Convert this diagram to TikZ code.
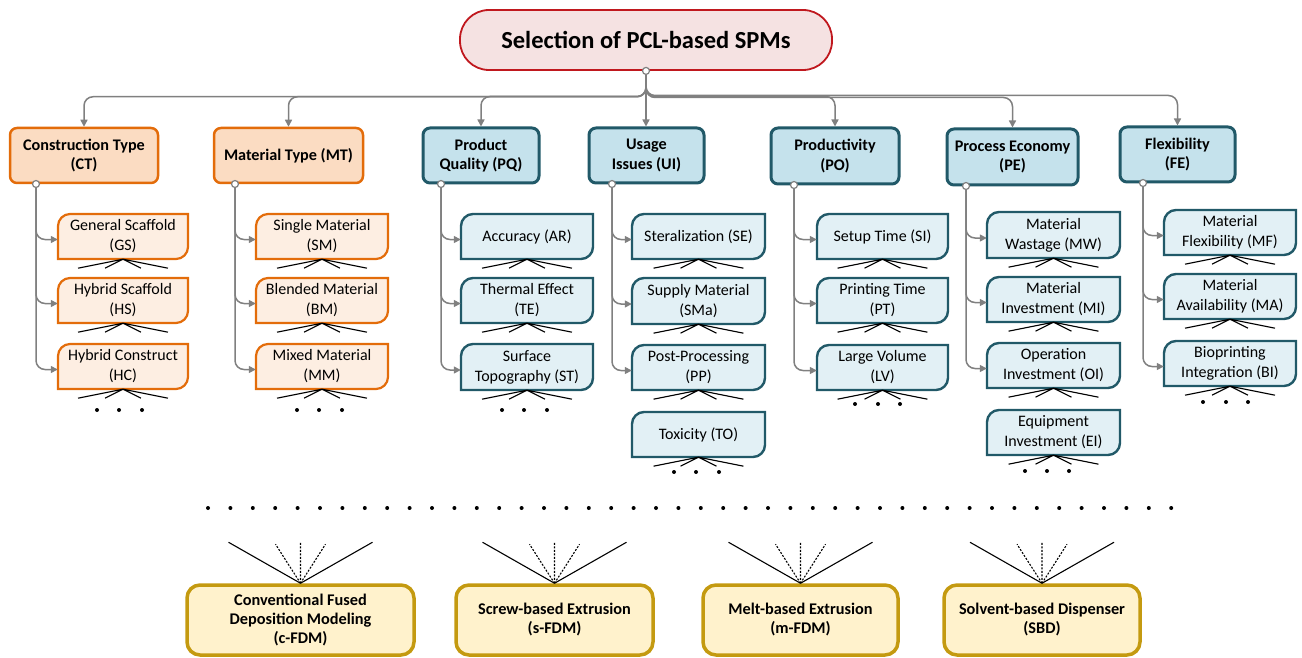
\documentclass[tikz,border=0pt]{standalone}
\usepackage{fontspec}
\setmainfont{Carlito}
\usetikzlibrary{arrows.meta,calc}
\definecolor{cgray}{HTML}{808080}
\definecolor{oD}{HTML}{E36C0A}
\definecolor{oH}{HTML}{FBDCC2}
\definecolor{oL}{HTML}{FDEEE2}
\definecolor{bD}{HTML}{215968}
\definecolor{bH}{HTML}{C5E2EC}
\definecolor{bL}{HTML}{E2F0F5}
\definecolor{tD}{HTML}{C0181E}
\definecolor{tF}{HTML}{F5E2E2}
\definecolor{yD}{HTML}{C49A10}
\definecolor{yF}{HTML}{FFF2CC}
\newcommand\hdrfont{\fontsize{16.2}{19.5}\selectfont\bfseries}
\newcommand\leaffont{\fontsize{16}{20}\selectfont}
\tikzset{
  conn/.style={draw=cgray, line width=1.5pt, rounded corners=9pt, -{Triangle[length=7pt,width=7pt]}},
  port/.style={circle, draw=cgray, fill=white, line width=1.2pt, minimum size=7pt, inner sep=0pt},
  hdrO/.style={draw=oD, fill=oH, line width=2.5pt, rounded corners=7pt, font=\hdrfont, align=center, inner sep=0pt},
  hdrB/.style={draw=bD, fill=bH, line width=3pt, rounded corners=7pt, font=\hdrfont, align=center, inner sep=0pt},
  titlebox/.style={draw=tD, fill=tF, line width=1.8pt, rounded corners=29pt, font=\fontsize{24.5}{28}\selectfont\bfseries, inner sep=0pt},
  basebox/.style={draw=yD, fill=yF, line width=3.5pt, rounded corners=13pt, font=\fontsize{16.3}{19}\selectfont\bfseries, align=center, inner sep=0pt},
  leafO/.style={draw=oD, fill=oL, line width=2.2pt},
  leafB/.style={draw=bD, fill=bL, line width=2.4pt},
  ltext/.style={font=\leaffont, align=center, inner sep=0pt},
  spoke/.style={draw=black, line width=1.1pt},
  dspoke/.style={draw=black, line width=1.1pt, dash pattern=on 2pt off 1.5pt},
}
\newcommand\boxnode[7]{%
  \node[#2, minimum width={(#5-#3)*1pt}, minimum height={(#6-#4)*1pt}] (#1) at ({(#3+#5)/2},{(#4+#6)/2}) {#7};}
\newcommand\leafbox[7]{%
  \path[#2] (#3,#4+12) .. controls (#3,#4+5.4) and (#3+5.4,#4) .. (#3+12,#4) -- (#5,#4) -- (#5,#6-12) .. controls (#5,#6-5.4) and (#5-5.4,#6) .. (#5-12,#6) -- (#3,#6) -- cycle;
  \node[ltext, minimum width={(#5-#3)*1pt}, minimum height={(#6-#4)*1pt}] (#1) at ({(#3+#5)/2},{(#4+#6)/2}) {#7};
  \draw[spoke] (#1.south) -- ++(-45,9) (#1.south) -- ++(-18,9) (#1.south) -- ++(18,9) (#1.south) -- ++(45,9);}
\newcommand\fan[1]{%
  \draw[spoke] (#1.north) -- ++(-72,-41) (#1.north) -- ++(72,-41);
  \draw[dspoke] (#1.north) -- ++(-25,-39) (#1.north) -- ++(0,-41) (#1.north) -- ++(25,-39);}
\begin{document}
\begin{tikzpicture}[x=1pt,y=-1pt]
\useasboundingbox (0,0) rectangle (1302,658);
% title
\boxnode{T}{titlebox}{460}{10}{832}{70}{Selection of PCL-based SPMs}
% headers
\boxnode{CT}{hdrO}{10}{128}{158}{183}{Construction Type\\(CT)}
\boxnode{MT}{hdrO}{214}{128}{363}{183}{Material Type (MT)}
\boxnode{PQ}{hdrB}{423}{128}{539}{183}{Product\\Quality (PQ)}
\boxnode{UI}{hdrB}{589}{128}{704}{183}{Usage\\Issues (UI)}
\boxnode{PO}{hdrB}{771}{128}{899}{184}{Productivity\\(PO)}
\boxnode{PE}{hdrB}{947}{129}{1078}{185}{Process Economy\\(PE)}
\boxnode{FE}{hdrB}{1120}{127}{1235}{182}{Flexibility\\(FE)}
% top connectors
\node[port] (Tp) at (T.south) {};
\foreach \c in {CT,MT,PQ,PO,PE,FE}
  \draw[conn] (Tp.south) |- ($(\c.north)+(0,-30)$) -- (\c.north);
\draw[conn] (Tp.south) -- (Tp.south |- UI.north);
% leaves
\leafbox{GS}{leafO}{58}{214}{188}{259}{General Scaffold\\(GS)}
\leafbox{HS}{leafO}{58}{278}{188}{323}{Hybrid Scaffold\\(HS)}
\leafbox{HC}{leafO}{58}{344}{188}{389}{Hybrid Construct\\(HC)}
\leafbox{SM}{leafO}{256}{214}{388}{259}{Single Material\\(SM)}
\leafbox{BM}{leafO}{256}{278}{388}{323}{Blended Material\\(BM)}
\leafbox{MM}{leafO}{256}{344}{388}{389}{Mixed Material\\(MM)}
\leafbox{AR}{leafB}{461}{214}{593}{259}{Accuracy (AR)}
\leafbox{TE}{leafB}{461}{278}{593}{323}{Thermal Effect\\(TE)}
\leafbox{ST}{leafB}{461}{344}{593}{390}{Surface\\Topography (ST)}
\leafbox{SE}{leafB}{632}{214}{765}{259}{Steralization (SE)}
\leafbox{SMa}{leafB}{632}{278}{765}{324}{Supply Material\\(SMa)}
\leafbox{PP}{leafB}{632}{345}{765}{390}{Post-Processing\\(PP)}
\leafbox{TO}{leafB}{632}{412}{765}{457}{Toxicity (TO)}
\leafbox{SI}{leafB}{817}{214}{948}{259}{Setup Time (SI)}
\leafbox{PT}{leafB}{817}{278}{948}{323}{Printing Time\\(PT)}
\leafbox{LV}{leafB}{817}{345}{948}{390}{Large Volume\\(LV)}
\leafbox{MW}{leafB}{987}{212}{1120}{258}{Material\\Wastage (MW)}
\leafbox{MI}{leafB}{987}{277}{1120}{322}{Material\\Investment (MI)}
\leafbox{OI}{leafB}{987}{343}{1120}{388}{Operation\\Investment (OI)}
\leafbox{EI}{leafB}{987}{410}{1120}{455}{Equipment\\Investment (EI)}
\leafbox{MF}{leafB}{1164}{210}{1296}{255}{Material\\Flexibility (MF)}
\leafbox{MA}{leafB}{1164}{274}{1296}{319}{Material\\Availability (MA)}
\leafbox{BI}{leafB}{1164}{341}{1296}{386}{Bioprinting\\Integration (BI)}
% column ports and connectors
\node[port] (CTp) at (36,184) {};
\node[port] (MTp) at (235,184) {};
\node[port] (PQp) at (441,184) {};
\node[port] (UIp) at (612,184) {};
\node[port] (POp) at (794,185) {};
\node[port] (PEp) at (966,186) {};
\node[port] (FEp) at (1143,183) {};
\foreach \p/\l in {CTp/GS,CTp/HS,CTp/HC,MTp/SM,MTp/BM,MTp/MM,PQp/AR,PQp/TE,PQp/ST,UIp/SE,UIp/SMa,UIp/PP,POp/SI,POp/PT,POp/LV,PEp/MW,PEp/MI,PEp/OI,FEp/MF,FEp/MA,FEp/BI}
  \draw[conn] (\p.south) |- ([yshift=-3pt]\l.west);
% column dots
\foreach \x/\y in {97/410,119/410,142/410, 297/410,319/410,342/410, 502/410,524/410,547/410, 674/472,696/472,719/472, 855/404,878/404,900/404, 1025/471,1047/471,1069/471, 1203/402,1226/402,1248/402}
  \fill (\x,\y) circle[radius=2pt];
% bottom row of dots
\foreach \i in {0,...,43}
  \fill ({208+22.4*\i},508) circle[radius=2pt];
% bottom boxes
\boxnode{C1}{basebox}{187}{585}{414}{655}{Conventional Fused\\Deposition Modeling\\(c-FDM)}
\boxnode{C2}{basebox}{456}{585}{653}{655}{Screw-based Extrusion\\(s-FDM)}
\boxnode{C3}{basebox}{703}{585}{898}{655}{Melt-based Extrusion\\(m-FDM)}
\boxnode{C4}{basebox}{944}{585}{1140}{655}{Solvent-based Dispenser\\(SBD)}
\fan{C1}\fan{C2}\fan{C3}\fan{C4}
\end{tikzpicture}
\end{document}
